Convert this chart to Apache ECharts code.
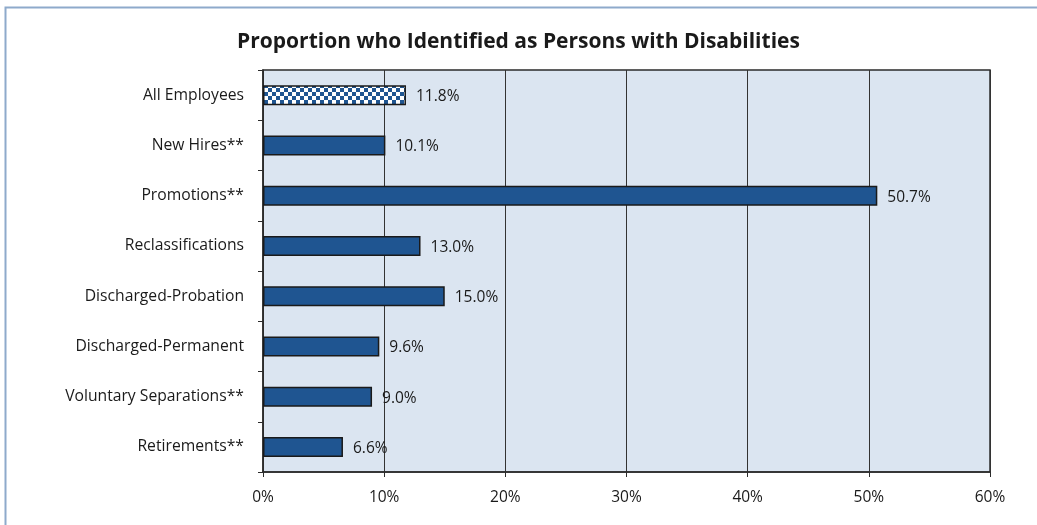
<!DOCTYPE html>
<html>
<head>
<meta charset="utf-8">
<script src="https://cdn.jsdelivr.net/npm/echarts@6/dist/echarts.min.js"></script>
<style>
  html, body { margin: 0; padding: 0; background: #fff; }
  #chart { width: 1037px; height: 525px; }
</style>
</head>
<body>
<div id="chart"></div>
<script>
// Groups shown on the vertical axis, top to bottom
const categories = [
  'All Employees',
  'New Hires**',
  'Promotions**',
  'Reclassifications',
  'Discharged-Probation',
  'Discharged-Permanent',
  'Voluntary Separations**',
  'Retirements**'
];
// Share of each group identifying as persons with disabilities (%)
const values = [11.8, 10.1, 50.7, 13.0, 15.0, 9.6, 9.0, 6.6];
const xTicks = [0, 10, 20, 30, 40, 50, 60];

const BAR = '#1F5591';

// Checkered fill used for the "All Employees" reference bar
function checkerPattern() {
  const c = document.createElement('canvas');
  c.width = 8; c.height = 8;
  const g = c.getContext('2d');
  g.fillStyle = BAR;
  g.fillRect(0, 0, 8, 8);
  g.fillStyle = '#ffffff';
  g.fillRect(0, 0, 4, 4);
  g.fillRect(4, 4, 4, 4);
  return c;
}

const chart = echarts.init(document.getElementById('chart'), null, { renderer: 'canvas' });

const seriesData = values.map((v, i) => {
  if (i === 0) {
    return { value: v, itemStyle: { color: { image: checkerPattern(), repeat: 'repeat' } } };
  }
  return v;
});

chart.setOption({
  animation: false,
  backgroundColor: '#ffffff',
  textStyle: { fontFamily: '"Open Sans", sans-serif' },
  title: {
    text: 'Proportion who Identified as Persons with Disabilities',
    left: 'center',
    top: 27,
    textStyle: { fontSize: 21, fontWeight: 'bold', color: '#1a1a1a', fontFamily: '"Open Sans", sans-serif' }
  },
  graphic: [{
    type: 'rect',
    shape: { x: 5.5, y: 7.5, width: 1200, height: 700 },
    style: { fill: 'none', stroke: '#8EAACB', lineWidth: 2 },
    silent: true
  }],
  grid: {
    left: 263, right: 47, top: 70, bottom: 53,
    show: true,
    backgroundColor: '#DBE5F1',
    borderColor: '#2b2b2b',
    borderWidth: 1.5
  },
  xAxis: {
    type: 'value',
    min: xTicks[0],
    max: xTicks[xTicks.length - 1],
    interval: 10,
    axisLine: { show: true, lineStyle: { color: '#2b2b2b', width: 1.5 } },
    axisTick: { show: true, length: 5, lineStyle: { color: '#2b2b2b' } },
    axisLabel: { formatter: v => v + '%', fontSize: 15.5, color: '#1a1a1a', margin: 18 },
    splitLine: { show: true, lineStyle: { color: '#333333', width: 1 } }
  },
  yAxis: {
    type: 'category',
    data: categories,
    inverse: true,
    axisLine: { show: true, lineStyle: { color: '#2b2b2b', width: 1.5 } },
    axisTick: { show: true, length: 5, alignWithLabel: false, lineStyle: { color: '#2b2b2b' } },
    axisLabel: { fontSize: 15.7, color: '#1a1a1a', margin: 19, padding: [4, 0, 0, 0] },
    splitLine: { show: false }
  },
  series: [{
    type: 'bar',
    data: seriesData,
    barWidth: 20,
    itemStyle: { color: BAR, borderColor: '#1a1a1a', borderWidth: 1.5 },
    label: {
      show: true,
      position: 'right',
      distance: 10,
      fontSize: 15.5,
      color: '#1a1a1a',
      offset: [0, 1.5],
      formatter: p => p.value.toFixed(1) + '%'
    }
  }]
});
</script>
</body>
</html>
